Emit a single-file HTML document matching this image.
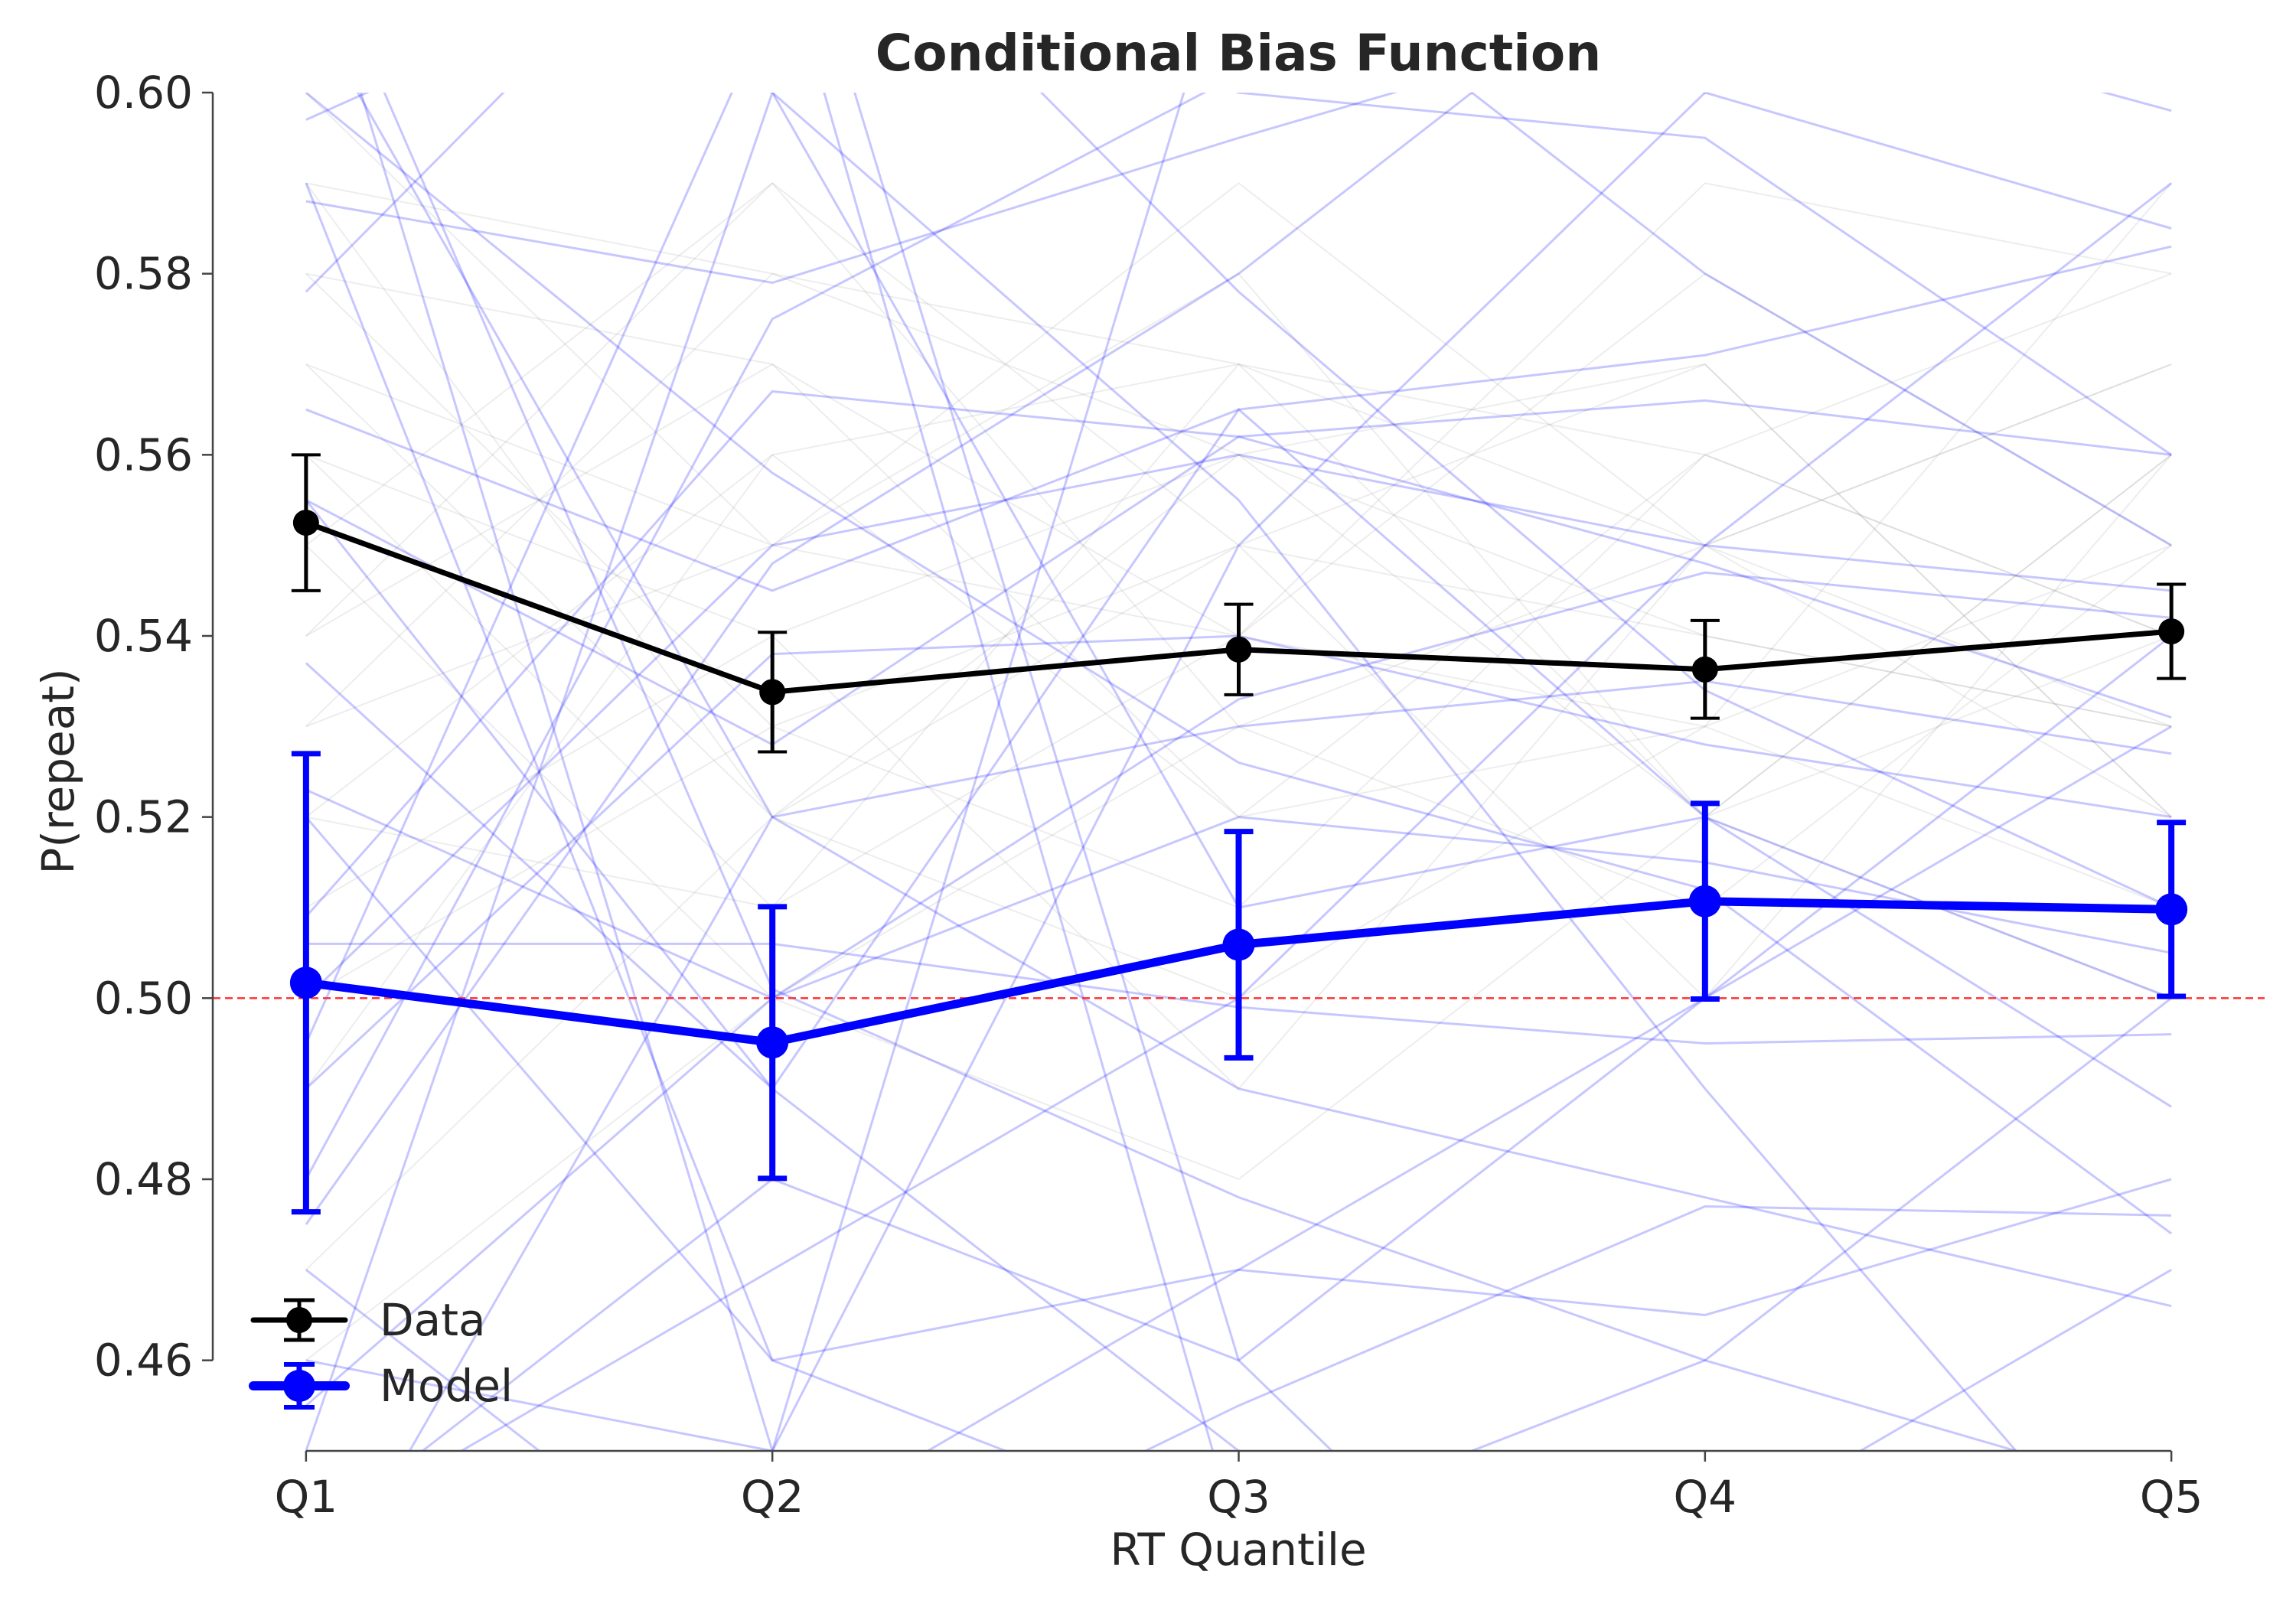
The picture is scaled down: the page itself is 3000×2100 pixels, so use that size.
<!DOCTYPE html>
<html><head><meta charset="utf-8"><style>
html,body{margin:0;padding:0;background:#fff;width:3000px;height:2100px;overflow:hidden}
svg{display:block;font-family:"DejaVu Sans","Liberation Sans",sans-serif}
</style></head><body>
<svg id="chart" width="3000" height="2100" viewBox="0 0 3000 2100" xmlns="http://www.w3.org/2000/svg">
<defs><clipPath id="plotclip"><rect x="278" y="121" width="2681" height="1775"/></clipPath></defs>
<text x="1618" y="92" text-anchor="middle" font-size="66" font-weight="bold" fill="#262626">Conditional Bias Function</text>
<text x="1618" y="2045" text-anchor="middle" font-size="58" fill="#262626">RT Quantile</text>
<text transform="translate(96,1008) rotate(-90)" text-anchor="middle" font-size="58" fill="#262626">P(repeat)</text>
<g id="bg" clip-path="url(#plotclip)"></g>
<g id="axes"></g>
<g id="series"></g>
<g>
  <g>
    <line x1="331" y1="1725" x2="451" y2="1725" stroke="#000" stroke-width="7" stroke-linecap="round"/>
    <line x1="391" y1="1699" x2="391" y2="1751" stroke="#000" stroke-width="5"/>
    <line x1="371" y1="1699" x2="411" y2="1699" stroke="#000" stroke-width="5"/>
    <line x1="371" y1="1751" x2="411" y2="1751" stroke="#000" stroke-width="5"/>
    <circle cx="391" cy="1725" r="17" fill="#000"/>
    <text x="496" y="1745" font-size="58" fill="#262626">Data</text>
  </g>
  <g>
    <line x1="331" y1="1811" x2="451" y2="1811" stroke="#00f" stroke-width="12" stroke-linecap="round"/>
    <line x1="391" y1="1783" x2="391" y2="1839" stroke="#00f" stroke-width="7"/>
    <line x1="371" y1="1783" x2="411" y2="1783" stroke="#00f" stroke-width="6"/>
    <line x1="371" y1="1839" x2="411" y2="1839" stroke="#00f" stroke-width="6"/>
    <circle cx="391" cy="1811" r="21" fill="#00f"/>
    <text x="496" y="1831" font-size="58" fill="#262626">Model</text>
  </g>
</g>
</svg>
<script>
const categories = ["Q1","Q2","Q3","Q4","Q5"];
const yTicks = [0.46,0.48,0.50,0.52,0.54,0.56,0.58,0.60];
const dataMean = [0.5525,0.5338,0.5385,0.5363,0.5405];
const dataErr = [0.0075,0.0066,0.0050,0.0054,0.0052];
const modelMean = [0.5017,0.4951,0.5059,0.5107,0.5098];
const modelErr = [0.0253,0.0150,0.0125,0.0108,0.0096];
const refLevel = 0.50;
const blueSubjects = [
[0.597,0.62,0.44,0.43,0.44],[0.588,0.579,0.595,0.61,0.62],[0.555,0.528,0.562,0.566,0.56],
[0.506,0.506,0.499,0.495,0.496],[0.475,0.548,0.58,0.62,0.63],[0.62,0.45,0.55,0.60,0.61],
[0.537,0.49,0.45,0.44,0.47],[0.578,0.63,0.46,0.41,0.44],[0.509,0.567,0.562,0.548,0.531],
[0.495,0.61,0.623,0.60,0.585],[0.45,0.60,0.51,0.52,0.50],[0.62,0.501,0.478,0.46,0.445],
[0.523,0.5,0.52,0.515,0.505],[0.44,0.47,0.50,0.55,0.59],[0.60,0.558,0.526,0.512,0.474],
[0.49,0.538,0.54,0.528,0.52],[0.46,0.45,0.62,0.58,0.55],[0.65,0.63,0.578,0.534,0.51],
[0.44,0.48,0.46,0.50,0.54],[0.62,0.60,0.555,0.49,0.43],[0.52,0.46,0.47,0.465,0.48],
[0.48,0.575,0.602,0.612,0.598],[0.43,0.44,0.47,0.5,0.53],[0.61,0.52,0.49,0.478,0.466],
[0.565,0.545,0.565,0.571,0.583],[0.455,0.5,0.533,0.547,0.542],[0.59,0.46,0.44,0.46,0.5],
[0.50,0.55,0.56,0.55,0.545],[0.47,0.43,0.455,0.477,0.476],[0.62,0.62,0.60,0.595,0.56],
[0.43,0.52,0.53,0.535,0.527],[0.555,0.49,0.565,0.52,0.488]
];
const greySubjects = [
[0.59,0.58,0.57,0.56,0.58],[0.53,0.55,0.54,0.53,0.55],[0.57,0.52,0.55,0.54,0.53],
[0.51,0.54,0.56,0.52,0.56],[0.55,0.59,0.53,0.55,0.52],[0.58,0.53,0.51,0.56,0.54],
[0.52,0.56,0.57,0.55,0.57],[0.56,0.51,0.54,0.58,0.55],[0.54,0.57,0.52,0.53,0.59],
[0.50,0.53,0.55,0.57,0.52],[0.60,0.55,0.58,0.52,0.56],[0.53,0.58,0.56,0.54,0.53],
[0.47,0.52,0.50,0.53,0.51],[0.57,0.55,0.59,0.55,0.57],[0.55,0.50,0.53,0.51,0.55],
[0.49,0.56,0.52,0.56,0.54],[0.58,0.57,0.54,0.59,0.58],[0.52,0.51,0.57,0.52,0.50],
[0.56,0.54,0.49,0.55,0.53],[0.54,0.59,0.55,0.50,0.56],[0.46,0.50,0.48,0.52,0.54],
[0.59,0.52,0.56,0.57,0.52]
];
const NS="http://www.w3.org/2000/svg";
const X0=278,X1=2959,xmin=-0.2,xmax=4.2,Y0=121,Y1=1896,ymax=0.60,ymin=0.45;
function xs(i){return X0+(i-xmin)/(xmax-xmin)*(X1-X0);}
function ys(v){return Y0+(ymax-v)/(ymax-ymin)*(Y1-Y0);}
function mk(t,a,p){const e=document.createElementNS(NS,t);for(const k in a)e.setAttribute(k,a[k]);(p||document.getElementById('chart')).appendChild(e);return e;}
const bg=document.getElementById('bg');
greySubjects.forEach(s=>{
  const el=mk('polyline',{points:s.map((v,i)=>xs(i)+','+ys(v)).join(' '),fill:'none',stroke:'#999','stroke-opacity':0.18,'stroke-width':2},bg);
  
  
});
blueSubjects.forEach(s=>{
  const el=mk('polyline',{points:s.map((v,i)=>xs(i)+','+ys(v)).join(' '),fill:'none',stroke:'#00f','stroke-opacity':0.22,'stroke-width':3},bg);
  
  
});
const ax=document.getElementById('axes');
const rl=mk('line',{x1:X0,x2:X1,y1:ys(refLevel),y2:ys(refLevel),stroke:'#f33','stroke-width':2.5,'stroke-dasharray':'10,6'},ax);


mk('line',{x1:X0,x2:X0,y1:ys(yTicks[0]),y2:ys(yTicks[yTicks.length-1]),stroke:'#444','stroke-width':2.5},ax);
mk('line',{x1:xs(0),x2:xs(categories.length-1),y1:Y1,y2:Y1,stroke:'#444','stroke-width':2.5},ax);
yTicks.forEach(v=>{
  mk('line',{x1:X0-14,x2:X0,y1:ys(v),y2:ys(v),stroke:'#444','stroke-width':2.5},ax);
  const t=mk('text',{x:X0-26,y:ys(v)+20,'text-anchor':'end','font-size':58,fill:'#262626'},ax);
  t.textContent=v.toFixed(2);
  
  
});
categories.forEach((c,i)=>{
  mk('line',{x1:xs(i),x2:xs(i),y1:Y1,y2:Y1+14,stroke:'#444','stroke-width':2.5},ax);
  const t=mk('text',{x:xs(i),y:Y1+80,'text-anchor':'middle','font-size':58,fill:'#262626'},ax);
  t.textContent=c;
  
  
});
const sg=document.getElementById('series');
function series(mean,err,col,lw,ew,r,name){
  const g=mk('g',{},sg);
  
  
  mean.forEach((v,i)=>{
    const x=xs(i),a=ys(v+err[i]),b=ys(v-err[i]);
    mk('line',{x1:x,x2:x,y1:a,y2:b,stroke:col,'stroke-width':ew},g);
    mk('line',{x1:x-19,x2:x+19,y1:a,y2:a,stroke:col,'stroke-width':ew-1},g);
    mk('line',{x1:x-19,x2:x+19,y1:b,y2:b,stroke:col,'stroke-width':ew-1},g);
  });
  const pl=mk('polyline',{points:mean.map((v,i)=>xs(i)+','+ys(v)).join(' '),fill:'none',stroke:col,'stroke-width':lw,'stroke-linejoin':'round'},g);
  
  
  mean.forEach((v,i)=>{
    const c=mk('circle',{cx:xs(i),cy:ys(v),r:r,fill:col},g);
    
    
  });
}
series(modelMean,modelErr,'#00f',11,8,21,'model');
series(dataMean,dataErr,'#000',7,5,17,'data');
</script>
</body></html>
